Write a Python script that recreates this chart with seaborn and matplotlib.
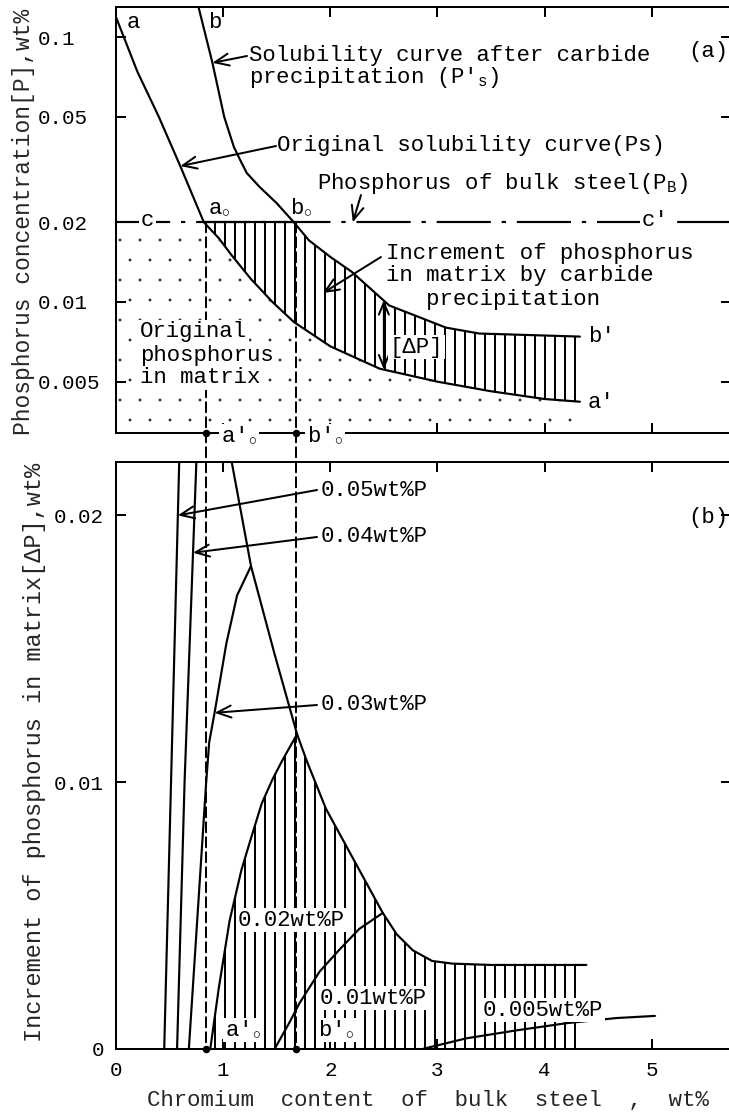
import numpy as np
import matplotlib
matplotlib.use("Agg")
import matplotlib.pyplot as plt
import matplotlib.hatch as mhatch
from matplotlib.patches import ConnectionPatch
from matplotlib.ticker import NullLocator
import seaborn as sns

# ── data ──────────────────────────────────────────────────────────────────────
# (a) solubility curves, [P] wt% vs Cr wt%
CR_PS = [0.0, 0.2, 0.4, 0.6, 0.82, 0.96, 1.08, 1.26, 1.46, 1.66, 2.0, 2.46, 3.0, 3.5, 4.0, 4.33]
PS = [0.119, 0.074, 0.050, 0.0326, 0.020, 0.0174, 0.0150, 0.0122, 0.0100, 0.0084,
      0.0068, 0.0056, 0.0050, 0.0046, 0.0043, 0.0042]

CR_PSP = [0.77, 0.90, 1.01, 1.10, 1.16, 1.22, 1.34, 1.50, 1.66, 1.80, 2.00, 2.20, 2.55,
          3.08, 3.39, 4.33]
PSP = [0.13, 0.080, 0.050, 0.0385, 0.0343, 0.0307, 0.0272, 0.0236, 0.020, 0.0171,
       0.0148, 0.0130, 0.0097, 0.0080, 0.0076, 0.0074]

PB = 0.02            # phosphorus of bulk steel
A0, B0 = 0.84, 1.68  # a0', b0'

# (b) increment of phosphorus [dP] for several bulk P levels
P05_CR, P05 = [0.45, 0.59], [0.0, 0.022]
P04_CR, P04 = [0.57, 0.64, 0.75], [0.0, 0.010, 0.022]
P03_CR = [0.68, 0.84, 0.87, 0.92, 1.03, 1.13, 1.26]
P03 = [0.0, 0.0099, 0.0115, 0.0126, 0.0152, 0.0170, 0.0181]
P02_CR = [0.88, 0.96, 1.06, 1.17, 1.26, 1.36, 1.46, 1.55, 1.69]
P02 = [0.0, 0.0023, 0.0048, 0.0067, 0.0079, 0.0092, 0.0101, 0.0108, 0.0118]
P01_CR = [1.48, 1.62, 1.71, 1.90, 2.08, 2.27, 2.49]
P01 = [0.0, 0.0010, 0.0017, 0.0029, 0.0037, 0.0045, 0.0051]
P005_CR = [2.86, 3.27, 3.74, 4.21, 4.67, 5.03]
P005 = [0.0, 0.0004, 0.0007, 0.00097, 0.00116, 0.00124]
ENV_CR = [1.08, 1.26, 1.48, 1.69, 1.78, 1.96, 2.15, 2.34, 2.49, 2.62, 2.77, 2.95, 3.14,
          3.5, 4.30, 4.39]
ENV = [0.022, 0.0181, 0.0148, 0.0118, 0.0108, 0.0090, 0.0076, 0.0062, 0.0051, 0.0043,
       0.0037, 0.0033, 0.0032, 0.00315, 0.00315, 0.00315]
HATCH_END = 4.30

# axes
XMAX = 5.74
Y1_MIN, Y1_MAX = 0.0032, 0.13
Y1_TICKS = [0.1, 0.05, 0.02, 0.01, 0.005]
Y1_LABELS = ["0.1", "0.05", "0.02", "0.01", "0.005"]
Y2_MAX = 0.022
Y2_TICKS, Y2_LABELS = [0, 0.01, 0.02], ["0", "0.01", "0.02"]
X_TICKS = [0, 1, 2, 3, 4, 5]
X_LABELS = ["0", "1", "2", "3", "4", "5"]

# ── style ─────────────────────────────────────────────────────────────────────
sns.set_theme(style="ticks")
plt.rcParams["font.family"] = ["Liberation Mono", "DejaVu Sans Mono"]
plt.rcParams["mathtext.fontset"] = "custom"
plt.rcParams["mathtext.rm"] = "Liberation Mono"
plt.rcParams["mathtext.it"] = "Liberation Mono:italic"
plt.rcParams["hatch.linewidth"] = 1.2
plt.rcParams["hatch.color"] = "black"
mhatch.SmallFilledCircles.size = 0.02   # fine stipple instead of fat dots

W, H, DPI = 729, 1114, 120
LW = 1.3
FS = 13.4


def px(x, y):
    return x / W, 1 - y / H


fig = plt.figure(figsize=(W / DPI, H / DPI), dpi=DPI)
fig.patch.set_facecolor("white")
ax1 = fig.add_axes([116 / W, 1 - 433 / H, (731 - 116) / W, 426 / H])
ax2 = fig.add_axes([116 / W, 1 - 1049 / H, (731 - 116) / W, 587 / H])

for ax in (ax1, ax2):
    ax.set_facecolor("white")
    for s in ax.spines.values():
        s.set_linewidth(1.2)
        s.set_color("black")
    ax.tick_params(which="both", direction="in", length=6, width=1.2,
                   top=True, right=True, colors="black", labelsize=12.5)
    ax.set_xlim(0, XMAX)
    ax.set_xticks(X_TICKS)

# ── (a) ───────────────────────────────────────────────────────────────────────
cr_ps, ps = np.array(CR_PS), np.array(PS)
cr_psp, psp = np.array(CR_PSP), np.array(PSP)

# original phosphorus in matrix (stipple)
ax1.fill_between(cr_ps, Y1_MIN, np.minimum(ps, PB), facecolor="none",
                 edgecolor="black", hatch=".", linewidth=0, zorder=1)
# increment by carbide precipitation (vertical lines)
low = ps <= PB
up = psp <= PB
poly_x = np.r_[cr_ps[low][0], cr_psp[up], cr_ps[low][::-1]]
poly_y = np.r_[PB, psp[up], ps[low][::-1]]
ax1.fill(poly_x, poly_y, facecolor="white", edgecolor="black", hatch="||",
         linewidth=0, zorder=1.5)

sns.lineplot(x=cr_ps, y=ps, ax=ax1, color="black", lw=LW, sort=False, zorder=3)
sns.lineplot(x=cr_psp, y=psp, ax=ax1, color="black", lw=LW, sort=False, zorder=3)
ax1.axhline(PB, color="black", lw=LW, ls=(0, (25, 5, 2, 5)), zorder=3)
ax1.hlines(PB, cr_ps[low][0], B0, color="black", lw=LW, zorder=3)

ax1.set_yscale("log")
ax1.set_ylim(Y1_MIN, Y1_MAX)
ax1.set_yticks(Y1_TICKS)
ax1.set_yticklabels(Y1_LABELS)
ax1.yaxis.set_minor_locator(NullLocator())
ax1.tick_params(axis="y", pad=78 * 72 / DPI)
for lbl in ax1.get_yticklabels():
    lbl.set_horizontalalignment("left")
ax1.tick_params(axis="x", labelbottom=False)
ax1.set_xlabel("")
ax1.set_ylabel("")

# [dP] double arrow
XD = 2.5
ax1.annotate("", xy=(XD, np.interp(XD, cr_psp, psp)), xytext=(XD, np.interp(XD, cr_ps, ps)),
             arrowprops=dict(arrowstyle="<->,head_length=0.6,head_width=0.25",
                             lw=1.2, color="black", shrinkA=0, shrinkB=0), zorder=4)

# ── (b) ───────────────────────────────────────────────────────────────────────
env_cr, env = np.array(ENV_CR), np.array(ENV)
after = env_cr > P02_CR[-1]
hx = np.r_[P02_CR, env_cr[after]]
hy = np.r_[P02, env[after]]
keep = hx <= HATCH_END
ax2.fill_between(hx[keep], 0, hy[keep], facecolor="none", edgecolor="black",
                 hatch="||", linewidth=0, zorder=1)

for cx, cy in [(P05_CR, P05), (P04_CR, P04), (P03_CR, P03), (P02_CR, P02),
               (P01_CR, P01), (P005_CR, P005), (ENV_CR, ENV)]:
    sns.lineplot(x=cx, y=cy, ax=ax2, color="black", lw=LW, sort=False, zorder=3)

ax2.set_ylim(0, Y2_MAX)
ax2.set_yticks(Y2_TICKS)
ax2.set_yticklabels(Y2_LABELS)
ax2.set_xticklabels(X_LABELS)
ax2.tick_params(axis="y", pad=12 * 72 / DPI)
ax2.tick_params(axis="x", pad=12 * 72 / DPI)
ax2.set_xlabel("")
ax2.set_ylabel("")

# dashed a0' / b0' lines running through both panels
for xv in (A0, B0):
    con = ConnectionPatch(xyA=(xv, PB), coordsA=ax1.transData,
                          xyB=(xv, 0), coordsB=ax2.transData,
                          color="black", lw=1.2, ls=(0, (5, 2.5)), zorder=5)
    fig.add_artist(con)
    ax1.plot([xv], [Y1_MIN], "o", color="black", ms=3.5, clip_on=False, zorder=6)
    ax2.plot([xv], [0], "o", color="black", ms=3.5, clip_on=False, zorder=6)

# ── arrows ────────────────────────────────────────────────────────────────────
arrow = dict(arrowstyle="->,head_length=0.7,head_width=0.3", lw=1.2,
             color="black", shrinkA=0, shrinkB=0)


def point_at(ax, xy, tail):
    ax.annotate("", xy=xy, xycoords="data", xytext=px(*tail),
                textcoords="figure fraction", arrowprops=arrow, zorder=4)


point_at(ax1, (CR_PSP[1], PSP[1]), (247, 56))
point_at(ax1, (CR_PS[3], PS[3]), (276, 146))
point_at(ax1, (2.21, PB), (361, 195))
point_at(ax1, (1.93, 0.0108), (381, 257))
point_at(ax2, (np.interp(0.020, P05, P05_CR), 0.020), (317, 490))
point_at(ax2, (np.interp(0.0186, P04, P04_CR), 0.0186), (317, 537))
point_at(ax2, (P03_CR[3], P03[3]), (317, 705))

# ── texts ─────────────────────────────────────────────────────────────────────
white = dict(facecolor="white", edgecolor="none", pad=1.0)


def label(x, y, s, box=False, **kw):
    fig.text(*px(x, y), s, ha="left", va="center", fontsize=FS, color="black",
             bbox=white if box else None, zorder=7, **kw)


label(127, 22, "a")
label(208, 22, "b")
label(249, 55, "Solubility curve after carbide")
label(249, 78, "precipitation (P$'_{\\mathrm{s}}$)")
label(688, 52, "(a)")
label(277, 145, "Original solubility curve(Ps)")
label(317, 183, "Phosphorus of bulk steel(P$_{\\mathrm{B}}$)")
label(141, 221, "c", box=True)
label(642, 221, "c'", box=True)
label(208, 208, "a$_{\\circ}$")
label(290, 208, "b$_{\\circ}$")
label(386, 253, "Increment of phosphorus")
label(386, 276, "in matrix by carbide")
label(386, 299, "   precipitation")
label(390, 347, "[ΔP]", box=True)
label(588, 337, "b'")
label(588, 403, "a'")
label(140, 332, "Original", box=True)
label(140, 355, "phosphorus", box=True)
label(140, 378, "in matrix", box=True)
label(221, 436, "a$'_{\\circ}$", box=True)
label(307, 436, "b$'_{\\circ}$", box=True)

label(321, 490, "0.05wt%P")
label(321, 537, "0.04wt%P")
label(321, 705, "0.03wt%P")
label(688, 518, "(b)")
label(238, 920, "0.02wt%P", box=True)
label(320, 998, "0.01wt%P", box=True)
label(483, 1010, "0.005wt%P", box=True)
label(225, 1030, "a$'_{\\circ}$", box=True)
label(318, 1030, "b$'_{\\circ}$", box=True)

fig.text(*px(24, 222), "Phosphorus concentration[P],wt%", rotation=90,
         ha="center", va="center", fontsize=13.8)
fig.text(*px(35, 752), "Increment of phosphorus in matrix[ΔP],wt%", rotation=90,
         ha="center", va="center", fontsize=14.2)
fig.text(*px(428, 1100), "Chromium  content  of  bulk  steel  ,  wt%",
         ha="center", va="center", fontsize=FS)

fig.savefig("out.png", dpi=DPI)
